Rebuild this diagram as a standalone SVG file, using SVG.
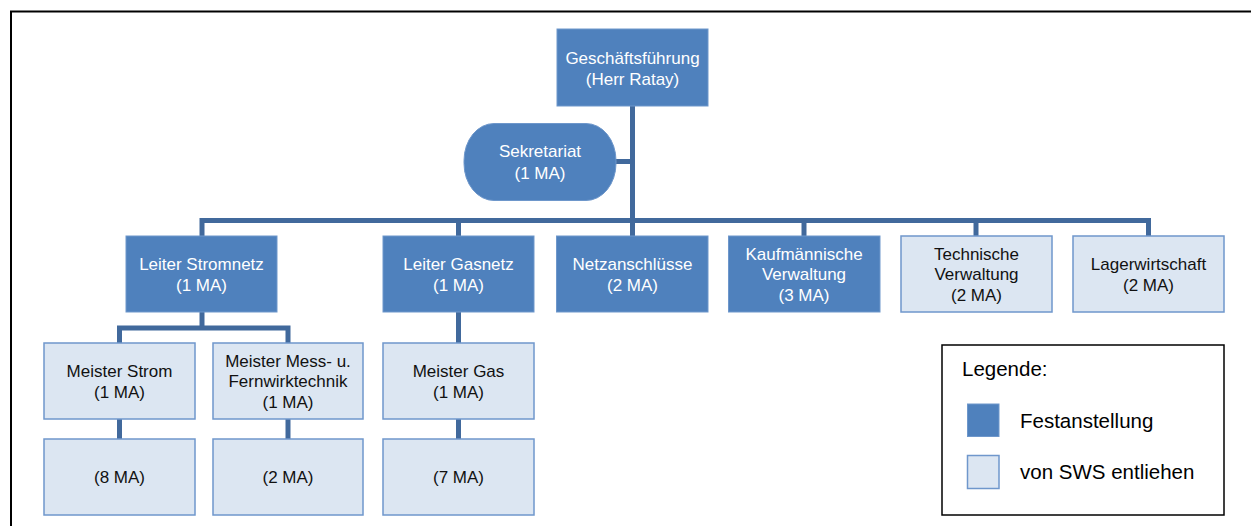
<svg xmlns="http://www.w3.org/2000/svg" width="1251" height="526" viewBox="0 0 1251 526">
<style>
.dark{fill:#4F81BD;stroke:#6E97CB;stroke-width:1}
.light{fill:#DCE6F2;stroke:#6F97CC;stroke-width:1.5}
.conn{fill:none;stroke:#41699C;stroke-width:5;stroke-linejoin:miter}
.tw{font-family:"Liberation Sans",Arial,sans-serif;font-size:17px;fill:#FFFFFF;text-anchor:middle}
.tb{font-family:"Liberation Sans",Arial,sans-serif;font-size:17px;fill:#111111;text-anchor:middle}
.lg{font-family:"Liberation Sans",Arial,sans-serif;font-size:20.5px;fill:#000000}
</style>
<rect x="0" y="0" width="1251" height="526" fill="#FFFFFF"/>
<path d="M11,526 V11.5 H1251" fill="none" stroke="#000000" stroke-width="2"/>
<g id="connectors">
<path class="conn" d="M632.5,106 V220.5"/>
<path class="conn" d="M615,161.5 H632.5"/>
<path class="conn" d="M202,236 V220.5 H1148.5 V236"/>
<path class="conn" d="M458.5,220.5 V236"/>
<path class="conn" d="M632.5,220.5 V236"/>
<path class="conn" d="M804,220.5 V236"/>
<path class="conn" d="M976,220.5 V236"/>
<path class="conn" d="M202,312 V328"/>
<path class="conn" d="M119.5,343 V328 H288 V343"/>
<path class="conn" d="M458.5,312 V343"/>
<path class="conn" d="M119.5,419 V439"/>
<path class="conn" d="M288,419 V439"/>
<path class="conn" d="M458.5,419 V439"/>
</g>
<g id="gf">
<rect class="dark" x="557" y="29" width="151" height="77"/>
<text class="tw" x="632.5" y="63.5">Geschäftsführung</text>
<text class="tw" x="632.5" y="85">(Herr Ratay)</text>
</g>
<g id="sekretariat">
<rect class="dark" x="464" y="123.5" width="152" height="77" rx="30" ry="37"/>
<text class="tw" x="540" y="157">Sekretariat</text>
<text class="tw" x="540" y="178.5">(1 MA)</text>
</g>
<g id="leiter-stromnetz">
<rect class="dark" x="126" y="236" width="151" height="76"/>
<text class="tw" x="201.5" y="270">Leiter Stromnetz</text>
<text class="tw" x="201.5" y="291">(1 MA)</text>
</g>
<g id="leiter-gasnetz">
<rect class="dark" x="383" y="236" width="151" height="76"/>
<text class="tw" x="458.5" y="270">Leiter Gasnetz</text>
<text class="tw" x="458.5" y="291">(1 MA)</text>
</g>
<g id="netzanschluesse">
<rect class="dark" x="556.5" y="236" width="151.5" height="76"/>
<text class="tw" x="632.5" y="270">Netzanschlüsse</text>
<text class="tw" x="632.5" y="291">(2 MA)</text>
</g>
<g id="kaufmaennische">
<rect class="dark" x="728.5" y="236" width="151.5" height="76"/>
<text class="tw" x="804" y="259.5">Kaufmännische</text>
<text class="tw" x="804" y="280">Verwaltung</text>
<text class="tw" x="804" y="300.5">(3 MA)</text>
</g>
<g id="technische">
<rect class="light" x="901" y="236" width="151" height="76"/>
<text class="tb" x="976.5" y="259.5">Technische</text>
<text class="tb" x="976.5" y="280">Verwaltung</text>
<text class="tb" x="976.5" y="300.5">(2 MA)</text>
</g>
<g id="lagerwirtschaft">
<rect class="light" x="1073" y="236" width="151" height="76"/>
<text class="tb" x="1148.5" y="270">Lagerwirtschaft</text>
<text class="tb" x="1148.5" y="291">(2 MA)</text>
</g>
<g id="meister-strom">
<rect class="light" x="44" y="343" width="151" height="76"/>
<text class="tb" x="119.5" y="376.5">Meister Strom</text>
<text class="tb" x="119.5" y="397.5">(1 MA)</text>
</g>
<g id="meister-mess">
<rect class="light" x="213" y="343" width="150" height="76"/>
<text class="tb" x="288" y="366.5">Meister Mess- u.</text>
<text class="tb" x="288" y="387">Fernwirktechnik</text>
<text class="tb" x="288" y="407.5">(1 MA)</text>
</g>
<g id="meister-gas">
<rect class="light" x="383" y="343" width="151" height="76"/>
<text class="tb" x="458.5" y="376.5">Meister Gas</text>
<text class="tb" x="458.5" y="397.5">(1 MA)</text>
</g>
<g id="strom-ma">
<rect class="light" x="44" y="439" width="151" height="76"/>
<text class="tb" x="119.5" y="483">(8 MA)</text>
</g>
<g id="mess-ma">
<rect class="light" x="213" y="439" width="150" height="76"/>
<text class="tb" x="288" y="483">(2 MA)</text>
</g>
<g id="gas-ma">
<rect class="light" x="383" y="439" width="151" height="76"/>
<text class="tb" x="458.5" y="483">(7 MA)</text>
</g>
<g id="legend">
<rect x="942" y="345" width="282" height="170" fill="#FFFFFF" stroke="#000000" stroke-width="1.5"/>
<text class="lg" x="962" y="376">Legende:</text>
<rect class="dark" x="967.5" y="404" width="31.5" height="32.5"/>
<text class="lg" x="1020" y="427.5">Festanstellung</text>
<rect class="light" x="967.5" y="455.5" width="31.5" height="33"/>
<text class="lg" x="1020" y="479">von SWS entliehen</text>
</g>
</svg>
